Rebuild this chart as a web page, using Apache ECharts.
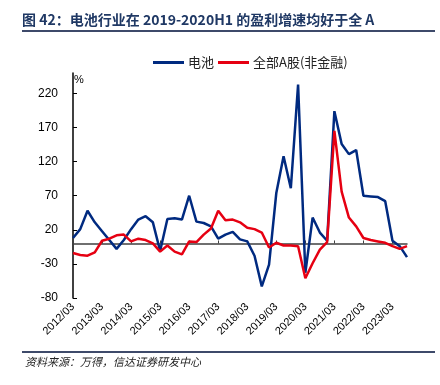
<!DOCTYPE html>
<html>
<head>
<meta charset="utf-8">
<script src="https://cdn.jsdelivr.net/npm/echarts@6/dist/echarts.min.js"></script>
<style>
html,body{margin:0;padding:0;background:#fff;}
#c{width:440px;height:385px;}
</style>
</head>
<body>
<div id="c"></div>
<script>
// Quarterly categories 2012/03 .. 2023/09
const categories = [
  '2012/03','2012/06','2012/09','2012/12',
  '2013/03','2013/06','2013/09','2013/12',
  '2014/03','2014/06','2014/09','2014/12',
  '2015/03','2015/06','2015/09','2015/12',
  '2016/03','2016/06','2016/09','2016/12',
  '2017/03','2017/06','2017/09','2017/12',
  '2018/03','2018/06','2018/09','2018/12',
  '2019/03','2019/06','2019/09','2019/12',
  '2020/03','2020/06','2020/09','2020/12',
  '2021/03','2021/06','2021/09','2021/12',
  '2022/03','2022/06','2022/09','2022/12',
  '2023/03','2023/06','2023/09'
];
const batteryGrowth = [
  8, 21, 48, 31, 18, 5, -8, 5, 21, 35, 40, 31,
  -11, 36, 37, 35, 70, 32, 30, 25, 7, 13, 17, 6,
  3, -18, -63, -31, 74, 128, 81, 233, -43, 38, 16, 4,
  194, 146, 131, 137, 70, 69, 68, 62, 4, -4, -20
];
const allAGrowth = [
  -14, -17, -18, -13, 4, 7, 12, 13, 3, 7, 5, 0,
  -12, -3, -12, -16, 3, 2, 13, 22, 48, 34, 35, 31,
  23, 21, 16, -6, 1, -3, -3, -4, -51, -29, -9, 2,
  165, 76, 38, 25, 8, 5, 3, 1, -4, -8, -4
];
const yTickValues = [-80, -30, 20, 70, 120, 170, 220];
const seriesNames = ['电池', '全部A股(非金融)'];

const chart = echarts.init(document.getElementById('c'), null, {renderer: 'canvas'});
const cjk = '"Noto Sans CJK SC", "Noto Sans", sans-serif';
const latin = '"Liberation Sans", Arial, sans-serif';

chart.setOption({
  animation: false,
  backgroundColor: '#fff',
  graphic: [
    {type: 'text', left: 22, top: 13, style: {text: '图 42：电池行业在 2019-2020H1 的盈利增速均好于全 A', font: 'bold 14px ' + cjk, fill: '#1f3864'}},
    {type: 'rect', left: 22, top: 30, shape: {width: 413, height: 2}, style: {fill: '#3e4a6a'}},
    {type: 'rect', left: 22, top: 351, shape: {width: 413, height: 2}, style: {fill: '#3e4a6a'}},
    {type: 'text', left: 25, top: 356, style: {text: '资料来源：万得，信达证券研发中心', font: 'italic 11px ' + cjk, fill: '#222'}}
  ],
  legend: {
    top: 51,
    left: 148,
    icon: 'rect',
    itemWidth: 31,
    itemHeight: 3,
    itemGap: 4,
    textStyle: {fontFamily: cjk, fontSize: 13, color: '#222', padding: [0, 0, 0, -1]},
    data: seriesNames
  },
  grid: {left: 73, right: 33, top: 73, bottom: 87, containLabel: false},
  xAxis: [
    {
      type: 'category', data: categories, boundaryGap: false, position: 'bottom',
      axisLine: {show: false, onZero: false}, axisTick: {show: false},
      axisLabel: {interval: 3, rotate: 45, fontSize: 11, fontFamily: latin, color: '#000', margin: 7},
      splitLine: {show: false}
    },
    {
      type: 'category', data: categories, boundaryGap: false, position: 'top',
      axisLine: {show: true, onZero: true, lineStyle: {color: '#404040', width: 1.5}},
      axisTick: {show: true, inside: false, interval: 3, length: 3, lineStyle: {color: '#404040'}},
      axisLabel: {show: false}, splitLine: {show: false}
    }
  ],
  yAxis: {
    type: 'value', min: -80, max: 250,
    name: '%', nameLocation: 'end', nameGap: -1,
    nameTextStyle: {align: 'left', verticalAlign: 'top', fontSize: 11, fontFamily: latin, color: '#000', padding: [0, 0, 0, 1]},
    axisLine: {show: true, lineStyle: {color: '#000', width: 1.5}},
    axisTick: {show: true, inside: true, length: 4, customValues: yTickValues, lineStyle: {color: '#000'}},
    axisLabel: {customValues: yTickValues, fontSize: 12, fontFamily: latin, color: '#000', margin: 15},
    splitLine: {show: false}
  },
  series: [
    {name: seriesNames[0], type: 'line', data: batteryGrowth, symbol: 'none', lineStyle: {color: '#002a80', width: 2.5}, itemStyle: {color: '#002a80'}},
    {name: seriesNames[1], type: 'line', data: allAGrowth, symbol: 'none', lineStyle: {color: '#e60012', width: 2.5}, itemStyle: {color: '#e60012'}}
  ]
});
</script>
</body>
</html>
